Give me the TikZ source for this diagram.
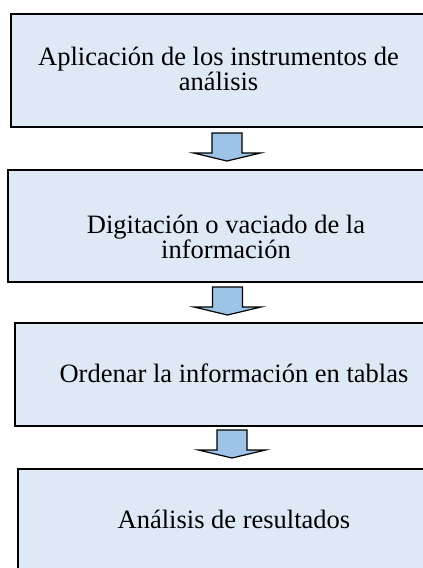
\documentclass[tikz,border=0pt]{standalone}
\usepackage{fontspec}
\setmainfont{Liberation Serif}
\definecolor{boxfill}{HTML}{DEE9F5}
\definecolor{arrfill}{HTML}{9DC3E6}
\tikzset{
  stepbox/.style={draw=black, line width=1.5pt, fill=boxfill, inner sep=0pt},
  steptext/.style={inner sep=0pt, align=center, font=\fontsize{26.5}{25}\selectfont},
  blockarrow/.pic={
    \draw[line width=1.2pt, fill=arrfill, line join=miter]
      (-15,0) -- (15,0) -- (15,20) -- (33.5,20) -- (0,28) -- (-33.5,20) -- (-15,20) -- cycle;
  }
}
\begin{document}
\begin{tikzpicture}[x=1pt,y=-1pt]
\useasboundingbox (0,0) rectangle (423,568);
\clip (0,0) rectangle (423,568);
\node[stepbox, minimum width=415pt, minimum height=113pt] (b1) at (218.5,70.5) {};
\node[steptext] (t1) at (218.5,69) {Aplicación de los instrumentos de\\análisis};
\node[stepbox, minimum width=436pt, minimum height=112pt] (b2) at (226,226) {};
\node[steptext] (t2) at (226,237) {Digitación o vaciado de la\\información};
\node[stepbox, minimum width=440pt, minimum height=103pt] (b3) at (235,374.5) {};
\node[steptext] (t3) at (234,373.5) {Ordenar la información en tablas};
\node[stepbox, minimum width=434pt, minimum height=101pt] (b4) at (235,519.5) {};
\node[steptext] (t4) at (234,519) {Análisis de resultados};
\pic at (227,133) {blockarrow};
\pic at (227.5,287) {blockarrow};
\pic at (232,430) {blockarrow};
\end{tikzpicture}
\end{document}
